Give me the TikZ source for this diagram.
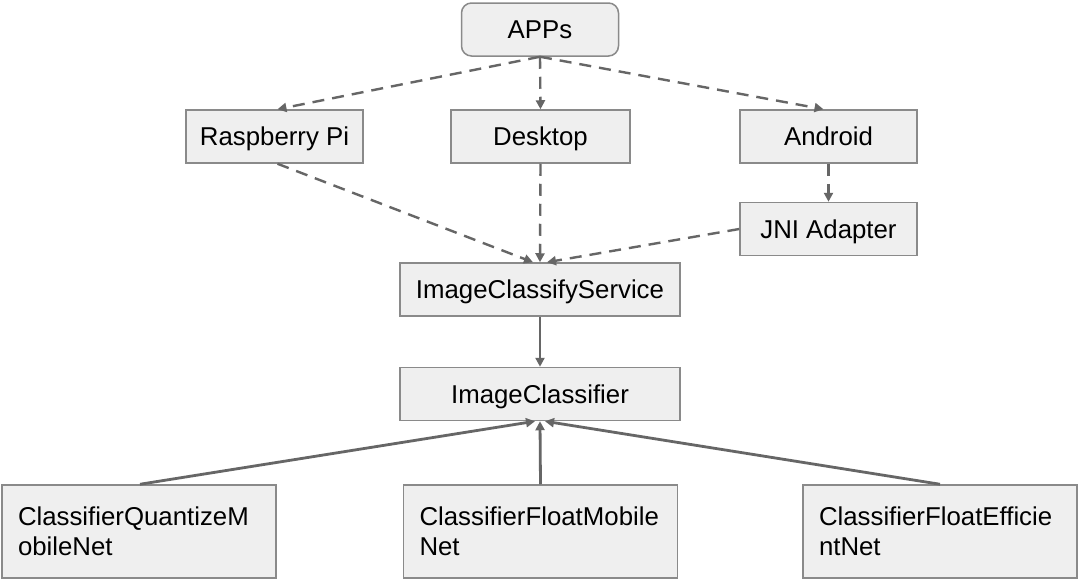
\documentclass[tikz,border=0pt]{standalone}
\usepackage{fontspec}
\setmainfont{Liberation Sans}
\usetikzlibrary{arrows.meta}
\definecolor{boxfill}{HTML}{EFEFEF}
\definecolor{boxline}{HTML}{8A8A8A}
\definecolor{arrowc}{HTML}{666666}
\begin{document}
\begin{tikzpicture}[x=1pt,y=-1pt,
  box/.style={draw=boxline, fill=boxfill, line width=1.5pt, inner sep=0pt,
    font=\fontsize{25.8}{30}\selectfont},
  onebox/.style={box, text height=18.4pt, text depth=0pt},
  smallbox/.style={onebox, minimum width=177pt, minimum height=53pt},
  widebox/.style={onebox, minimum width=280pt, minimum height=53pt},
  bigbox/.style={box, minimum width=274pt, minimum height=93pt, text width=242pt, align=left},
  dasharrow/.style={draw=arrowc, line width=2.4pt, dash pattern=on 12pt off 8pt,
    -{Triangle[length=9pt,width=9pt]}},
  solidarrow/.style={draw=arrowc, line width=2.8pt, -{Triangle[length=9pt,width=9pt]}}
]
\useasboundingbox (0,0) rectangle (1080,581);
\fill[white] (0,0) rectangle (1080,581);

\node[onebox, rounded corners=10pt, minimum width=157pt, minimum height=53pt] (apps) at (540,29.5) {APPs};
\node[smallbox] (rpi) at (274.5,136.5) {Raspberry Pi};
\node[smallbox, minimum width=179pt] (desk) at (540.5,136.5) {Desktop};
\node[smallbox] (andr) at (828.5,136.5) {Android};
\node[smallbox] (jni) at (828.5,229) {JNI Adapter};
\node[widebox] (ics) at (540,289.5) {ImageClassifyService};
\node[widebox] (ic) at (540,394) {ImageClassifier};
\node[bigbox] (cq) at (139,531.5) {ClassifierQuantizeM\\obileNet};
\node[bigbox] (cfm) at (540.5,531.5) {ClassifierFloatMobile\\Net};
\node[bigbox] (cfe) at (940,531.5) {ClassifierFloatEfficie\\ntNet};

\draw[dasharrow] (apps.south) -- ([xshift=3pt]rpi.north);
\draw[dasharrow] (apps.south) -- (desk.north);
\draw[dasharrow] (apps.south) -- ([xshift=-5pt]andr.north);
\draw[dasharrow] ([xshift=3pt]rpi.south) -- ([xshift=-7pt]ics.north);
\draw[dasharrow] (desk.south) -- (ics.north);
\draw[dasharrow] (jni.west) -- ([xshift=7pt]ics.north);
\draw[dasharrow] (andr.south) -- (jni.north);
\draw[solidarrow] (ics.south) -- (ic.north);
\draw[solidarrow] ([xshift=1pt]cq.north) -- ([xshift=-5pt]ic.south);
\draw[solidarrow] (cfm.north) -- (ic.south);
\draw[solidarrow] (cfe.north) -- ([xshift=5pt]ic.south);
\end{tikzpicture}
\end{document}
